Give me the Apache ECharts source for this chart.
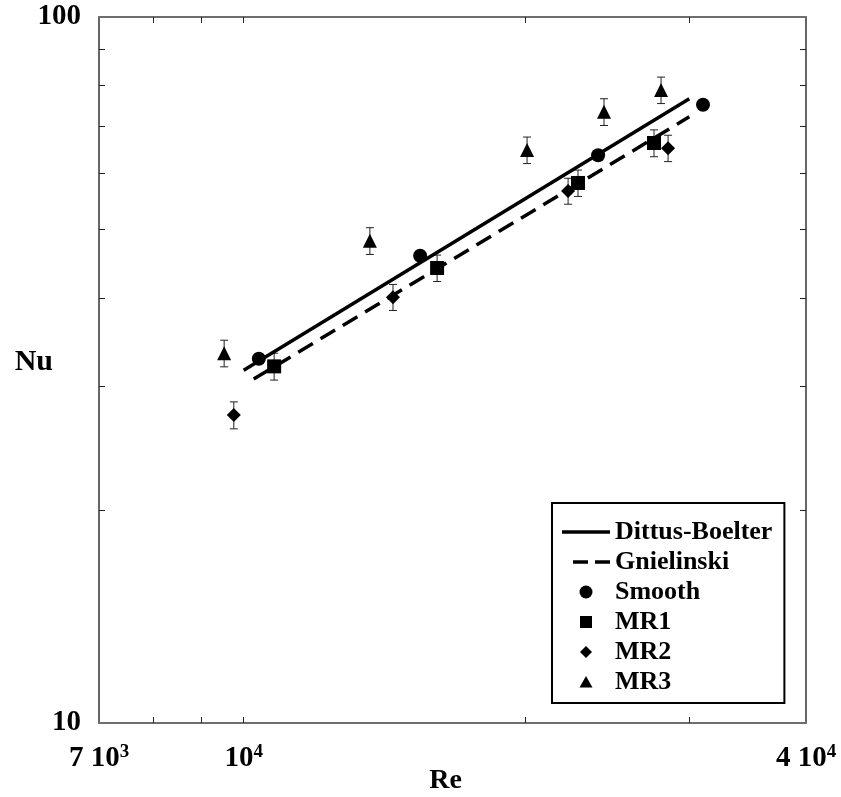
<!DOCTYPE html>
<html>
<head>
<meta charset="utf-8">
<script src="https://cdn.jsdelivr.net/npm/echarts@6/dist/echarts.min.js"></script>
<style>
  html, body { margin: 0; padding: 0; background: #fff; }
  #chart { width: 841px; height: 797px; }
</style>
</head>
<body>
<div id="chart"></div>
<script>
// correlations (end points)
let dittusRe = [10000, 30000];
let dittusNu = [31.6, 76.6];
let gnielRe = [10250, 30000];
let gnielNu = [30.7, 72.2];

// measurements
let smoothRe = [10380, 15450, 23960, 31030];
let smoothNu = [32.8, 45.9, 63.7, 75.1];

let mr1Re = [10780, 16110, 22800, 27500];
let mr1Nu = [32.0, 44.1, 58.2, 66.3];
let mr1Err = [1.4, 1.9, 2.5, 2.9];

let mr2Re = [9760, 14450, 22250, 28470];
let mr2Nu = [27.3, 40.1, 56.7, 65.2];
let mr2Err = [1.2, 1.7, 2.4, 2.8];

let mr3Re = [9530, 13650, 20110, 24310, 27980];
let mr3Nu = [33.4, 48.2, 64.8, 73.4, 78.8];
let mr3Err = [1.45, 2.1, 2.8, 3.2, 3.4];

// ticks
let reTicks = [8000, 9000, 10000, 20000, 30000];
let reLabels = [7000, 10000, 40000];
let nuTicks = [20, 30, 40, 50, 60, 70, 80, 90];
let nuLabels = [10, 100];

const FONT = '"Liberation Serif", "DejaVu Serif", serif';

// legend icons, drawn in a 48x13 box (the leading moves fix the box)
const BOX = 'path://M0,0 M48,13 ';
let legendIcons = {
  'Dittus-Boelter': BOX + 'M0,4.75 H48 V8.25 H0 Z',
  'Gnielinski': BOX + 'M11,4.75 H26 V8.25 H11 Z M33,4.75 H48 V8.25 H33 Z',
  'Smooth': BOX + 'M17.5,6.5 A6.5,6.5 0 1 1 30.5,6.5 A6.5,6.5 0 1 1 17.5,6.5 Z',
  'MR1': BOX + 'M18,0.5 H30 V12.5 H18 Z',
  'MR2': BOX + 'M24,0.5 L30,6.5 L24,12.5 L18,6.5 Z',
  'MR3': BOX + 'M24,0.5 L30.5,12 L17.5,12 Z'
};

function pairs(xs, ys) {
  return xs.map((x, i) => [x, ys[i]]);
}

function reLabel(v) {
  if (v === 7000) return '{b|7 10}{sup|3}';
  if (v === 10000) return '{b|10}{sup|4}';
  if (v === 40000) return '{b|4 10}{sup|4}';
  return '';
}

function errorBars(xs, ys, errs) {
  return {
    type: 'custom',
    silent: true,
    z: 1,
    encode: { x: 0, y: [1, 2] },
    data: xs.map((x, i) => [x, ys[i] - errs[i], ys[i] + errs[i]]),
    renderItem: function(params, api) {
      let lo = api.coord([api.value(0), api.value(1)]);
      let hi = api.coord([api.value(0), api.value(2)]);
      let w = 4;
      let st = { stroke: '#222', lineWidth: 1 };
      return {
        type: 'group',
        children: [
          { type: 'line', shape: { x1: lo[0], y1: lo[1], x2: hi[0], y2: hi[1] }, style: st },
          { type: 'line', shape: { x1: lo[0] - w, y1: lo[1], x2: lo[0] + w, y2: lo[1] }, style: st },
          { type: 'line', shape: { x1: hi[0] - w, y1: hi[1], x2: hi[0] + w, y2: hi[1] }, style: st }
        ]
      };
    }
  };
}

function scatter(name, symbol, size, xs, ys) {
  return {
    name: name,
    type: 'scatter',
    symbol: symbol,
    symbolSize: size,
    z: 3,
    color: '#000',
    itemStyle: { color: '#000', opacity: 1 },
    data: pairs(xs, ys)
  };
}

let tickStyle = { inside: true, length: 6, lineStyle: { color: '#222', width: 1 } };

function xAxisDef(pos, showLabels) {
  return {
    type: 'log',
    logBase: 10,
    position: pos,
    min: 7000,
    max: 40000,
    name: showLabels ? 'Re' : '',
    nameLocation: 'middle',
    nameGap: 44,
    nameMoveOverlap: false,
    nameTextStyle: { fontFamily: FONT, fontWeight: 'bold', fontSize: 28, color: '#000', padding: [0, 14, 0, 0] },
    axisLine: { show: true, lineStyle: { color: '#6e6e6e', width: 2 } },
    axisTick: Object.assign({ show: true, customValues: reTicks }, tickStyle),
    axisLabel: {
      show: showLabels,
      customValues: reLabels,
      margin: 20,
      formatter: reLabel,
      rich: {
        b: { fontFamily: FONT, fontWeight: 'bold', fontSize: 29, color: '#000', lineHeight: 32 },
        sup: { fontFamily: FONT, fontWeight: 'bold', fontSize: 19, color: '#000', lineHeight: 20, verticalAlign: 'top' }
      }
    },
    splitLine: { show: false }
  };
}

function yAxisDef(pos, showLabels) {
  return {
    type: 'log',
    logBase: 10,
    position: pos,
    min: 10,
    max: 100,
    name: showLabels ? 'Nu' : '',
    nameLocation: 'middle',
    nameRotate: 0,
    nameGap: 46,
    nameMoveOverlap: false,
    nameTextStyle: {
      fontFamily: FONT, fontWeight: 'bold', fontSize: 30, color: '#000',
      lineHeight: 16, verticalAlign: 'bottom'
    },
    axisLine: { show: true, lineStyle: { color: '#333', width: 1.5 } },
    axisTick: Object.assign({ show: true, customValues: nuTicks }, tickStyle),
    axisLabel: {
      show: showLabels,
      customValues: nuLabels,
      margin: 18,
      fontFamily: FONT,
      fontWeight: 'bold',
      fontSize: 29,
      color: '#000',
      padding: [3, 0, 0, 0]
    },
    splitLine: { show: false }
  };
}

let option = {
  animation: false,
  backgroundColor: '#fff',
  grid: { left: 99, right: 35, top: 17, bottom: 74, containLabel: false, outerBoundsMode: 'none' },
  legend: {
    orient: 'vertical',
    left: 552,
    top: 503,
    padding: [16, 12, 8, 10],
    borderColor: '#000',
    borderWidth: 2,
    itemWidth: 48,
    itemHeight: 13,
    itemGap: 4,
    textStyle: { fontFamily: FONT, fontWeight: 'bold', fontSize: 26, lineHeight: 26, color: '#000' },
    data: ['Dittus-Boelter', 'Gnielinski', 'Smooth', 'MR1', 'MR2', 'MR3'].map(function(n) {
      return { name: n, icon: legendIcons[n], itemStyle: { color: '#000', opacity: 1, borderWidth: 0 } };
    })
  },
  xAxis: [xAxisDef('bottom', true), xAxisDef('top', false)],
  yAxis: [yAxisDef('left', true), yAxisDef('right', false)],
  series: [
    {
      name: 'Dittus-Boelter',
      type: 'line',
      symbol: 'none',
      z: 2,
      color: '#000',
      lineStyle: { color: '#000', width: 3.5 },
      itemStyle: { color: '#000' },
      data: pairs(dittusRe, dittusNu)
    },
    {
      name: 'Gnielinski',
      type: 'line',
      symbol: 'none',
      z: 2,
      color: '#000',
      lineStyle: { color: '#000', width: 3.5, type: [17, 9] },
      itemStyle: { color: '#000' },
      data: pairs(gnielRe, gnielNu)
    },
    errorBars(mr1Re, mr1Nu, mr1Err),
    errorBars(mr2Re, mr2Nu, mr2Err),
    errorBars(mr3Re, mr3Nu, mr3Err),
    scatter('Smooth', 'circle', 14, smoothRe, smoothNu),
    scatter('MR1', 'rect', 14, mr1Re, mr1Nu),
    scatter('MR2', 'diamond', 14, mr2Re, mr2Nu),
    scatter('MR3', 'triangle', 14, mr3Re, mr3Nu)
  ]
};

let chart = echarts.init(document.getElementById('chart'));
chart.setOption(option);
</script>
</body>
</html>
